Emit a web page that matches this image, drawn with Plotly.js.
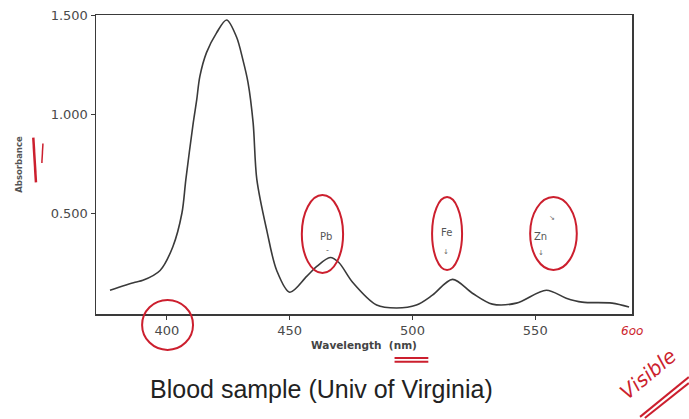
<!DOCTYPE html>
<html>
<head>
<meta charset="utf-8">
<script src="https://cdn.plot.ly/plotly-3.0.1.min.js"></script>
<style>html,body{margin:0;padding:0;background:#fff;}#chart{width:689px;height:419px;}</style>
</head>
<body>
<div id="chart"></div>
<script>
// Absorbance spectrum
const wavelength = [376.8, 387, 390.2, 397.2, 402.4, 406.1, 407.7, 410.7, 412.1, 413.4, 416.1, 420.2, 424.3, 428.3, 431.0, 433.0, 435.1, 436.6, 440.7, 444.7, 450, 456.9, 461, 466.5, 470, 475.6, 485.4, 493.5, 501.6, 508.1, 516.3, 524.4, 532.5, 542.3, 554.5, 562.6, 569.1, 581.3, 588.2];
const absorbance = [0.11, 0.15, 0.16, 0.21, 0.33, 0.5, 0.67, 0.955, 1.07, 1.19, 1.31, 1.41, 1.475, 1.39, 1.27, 1.16, 0.955, 0.67, 0.41, 0.21, 0.10, 0.18, 0.23, 0.275, 0.25, 0.15, 0.035, 0.02, 0.035, 0.085, 0.165, 0.095, 0.04, 0.045, 0.11, 0.07, 0.05, 0.045, 0.025];
const yTicks = [0.5, 1.0, 1.5];
const yTickText = ["0.500", "1.000", "1.500"];
const xTicks = [400, 450, 500, 550];
const peakLabels = ["Pb", "Fe", "Zn"];
const peakX = [464.9, 513.7, 552.3];
const peakY = [0.38, 0.40, 0.38];

const red = "#cc1f2e";
const ink = "#3a3a3a";
const grey = "#4a4a4a";

const trace = {
  x: wavelength, y: absorbance, type: "scatter", mode: "lines",
  line: {color: ink, width: 1.6, shape: "spline", smoothing: 0.9},
  hoverinfo: "skip", showlegend: false
};

function ell(x0, x1, y0, y1) {
  return {type: "circle", xref: "paper", yref: "paper", x0: x0, x1: x1, y0: y0, y1: y1,
          line: {color: red, width: 2}};
}
function seg(x0, y0, x1, y1, w) {
  return {type: "line", xref: "paper", yref: "paper", x0: x0, y0: y0, x1: x1, y1: y1,
          line: {color: red, width: w || 2}};
}

const annotations = peakLabels.map((t, i) => ({
  x: peakX[i], y: peakY[i], xref: "x", yref: "y", text: t, showarrow: false,
  font: {family: "DejaVu Sans, sans-serif", size: 10, color: "#555"}
}));
// small pencil marks under / above the element labels
annotations.push(
  {x: 465.4, y: 0.31, xref: "x", yref: "y", text: "-", showarrow: false, font: {family: "DejaVu Sans", size: 8, color: "#666"}},
  {x: 513.7, y: 0.305, xref: "x", yref: "y", text: "↓", showarrow: false, font: {family: "DejaVu Sans", size: 7, color: "#666"}},
  {x: 552.3, y: 0.298, xref: "x", yref: "y", text: "↓", showarrow: false, font: {family: "DejaVu Sans", size: 7, color: "#666"}},
  {x: 556.8, y: 0.475, xref: "x", yref: "y", text: "↘", showarrow: false, font: {family: "DejaVu Sans", size: 7, color: "#666"}}
);
annotations.push(
  {x: 0.4216, y: -0.25, xref: "paper", yref: "paper", xanchor: "center", yanchor: "middle",
   text: "Blood sample (Univ of Virginia)",
   showarrow: false, font: {family: "Liberation Sans, Arial, sans-serif", size: 25, color: "#222"}},
  {x: 1.0, y: -0.057, xref: "paper", yref: "paper", xanchor: "center", yanchor: "middle",
   text: "<i>6oo</i>", showarrow: false,
   font: {family: "DejaVu Sans, sans-serif", size: 12, color: red}},
  {x: 1.03, y: -0.2, xref: "paper", yref: "paper", xanchor: "center", yanchor: "middle",
   text: "<i>Visible</i>", showarrow: false, textangle: -40,
   font: {family: "DejaVu Sans, sans-serif", size: 20, color: red}}
);

const shapes = [
  ell(0.086, 0.181, -0.12, 0.047),
  ell(0.384, 0.461, 0.137, 0.398),
  ell(0.627, 0.683, 0.147, 0.391),
  ell(0.810, 0.897, 0.147, 0.391),
  seg(0.557, -0.147, 0.62, -0.147, 2),
  seg(0.557, -0.16, 0.62, -0.16, 2),
  seg(1.015, -0.344, 1.106, -0.211, 2),
  seg(1.024, -0.348, 1.106, -0.231, 2),
  seg(-0.117, 0.59, -0.112, 0.44, 2.5),
  seg(-0.099, 0.57, -0.101, 0.505, 1.5)
];

const layout = {
  width: 689, height: 419,
  margin: {l: 96, r: 57, t: 15, b: 105},
  paper_bgcolor: "#fff", plot_bgcolor: "#fff",
  showlegend: false,
  xaxis: {
    range: [371.1, 589.4], tickvals: xTicks, ticks: "outside", ticklen: 4, tickcolor: ink,
    showline: true, mirror: true, linecolor: ink, linewidth: 1.5, showgrid: false, zeroline: false,
    tickfont: {family: "DejaVu Sans, sans-serif", size: 13, color: grey},
    title: {text: "<b>Wavelength  (nm)</b>", standoff: 4,
            font: {family: "DejaVu Sans, sans-serif", size: 10.5, color: "#444"}}
  },
  yaxis: {
    range: [-0.01, 1.5], tickvals: yTicks, ticktext: yTickText, ticks: "outside", ticklen: 4, tickcolor: ink,
    showline: true, mirror: true, linecolor: ink, linewidth: 1.5, showgrid: false, zeroline: false,
    tickfont: {family: "DejaVu Sans, sans-serif", size: 13, color: grey},
    title: {text: "<b>Absorbance</b>", standoff: 26,
            font: {family: "DejaVu Sans, sans-serif", size: 8.5, color: "#555"}}
  },
  annotations: annotations,
  shapes: shapes
};

Plotly.newPlot("chart", [trace], layout, {staticPlot: true, displayModeBar: false});
</script>
</body>
</html>
